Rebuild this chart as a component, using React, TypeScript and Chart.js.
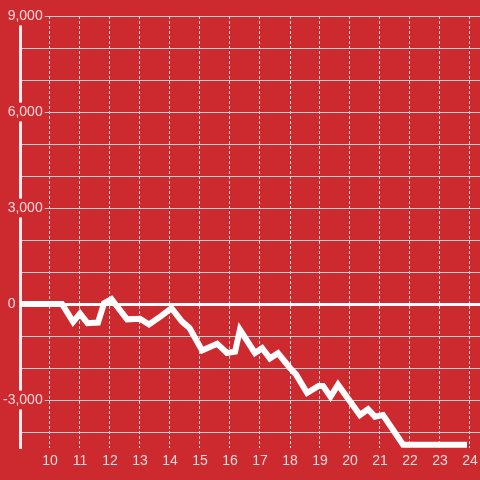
import React, { useEffect, useRef } from 'react';
import { Chart, registerables } from 'chart.js';

Chart.register(...registerables);

const hours = [
  9.0, 10.4, 10.77, 11.0, 11.25, 11.6, 11.8, 12.05, 12.3, 12.57, 13.0, 13.3, 13.7, 14.05,
  14.4, 14.65, 15.07, 15.57, 15.9, 16.17, 16.33, 16.83, 17.07, 17.33, 17.6, 18.0, 18.2,
  18.57, 18.95, 19.1, 19.35, 19.6, 20.33, 20.6, 20.83, 21.1, 21.77, 23.8,
];
const values = [
  0, 0, -560, -300, -600, -580, 20, 150, -150, -480, -460, -640, -380, -130,
  -550, -750, -1450, -1240, -1530, -1490, -800, -1530, -1380, -1700, -1540, -2000, -2200,
  -2780, -2560, -2560, -2900, -2520, -3470, -3290, -3520, -3470, -4400, -4400,
];
const xTickValues = [10, 11, 12, 13, 14, 15, 16, 17, 18, 19, 20, 21, 22, 23, 24];
const yTickValues = [-4000, -3000, -2000, -1000, 0, 1000, 2000, 3000, 4000, 5000, 6000, 7000, 8000, 9000];
const yLabelledValues = [-3000, 0, 3000, 6000, 9000];

const RED = '#CD2A30';
const TEXT = 'rgba(255,255,255,0.82)';
const FONT = '"Liberation Sans", Arial, sans-serif';

export default function App() {
  const ref = useRef<HTMLCanvasElement>(null);

  useEffect(() => {
    if (!ref.current) return;
    const chart = new Chart(ref.current, {
      type: 'line',
      data: {
        datasets: [
          {
            data: hours.map((x, i) => ({ x, y: values[i] })),
            borderColor: '#ffffff',
            borderWidth: 6,
            pointRadius: 0,
            borderCapStyle: 'square',
            borderJoinStyle: 'miter',
            tension: 0,
            fill: false,
          },
        ],
      },
      options: {
        animation: false,
        responsive: false,
        maintainAspectRatio: false,
        layout: { padding: { top: 16, left: 0, right: 0, bottom: 0 } },
        plugins: { legend: { display: false }, tooltip: { enabled: false } },
        scales: {
          x: {
            type: 'linear',
            min: 9,
            max: 9 + 460 / 30,
            afterBuildTicks: (s: any) => {
              s.ticks = xTickValues.map((v) => ({ value: v }));
            },
            afterFit: (s: any) => {
              s.height = 32;
              s.paddingLeft = 0;
              s.paddingRight = 0;
            },
            grid: { color: '#e2dcdc', lineWidth: 1, drawTicks: false },
            border: { display: false, dash: [3, 2] },
            ticks: {
              color: TEXT,
              font: { family: FONT, size: 14 },
              padding: 5,
              maxRotation: 0,
              autoSkip: false,
              callback: (v: any) => String(v),
            },
          },
          y: {
            type: 'linear',
            min: -4500,
            max: 9000,
            afterBuildTicks: (s: any) => {
              s.ticks = yTickValues.map((v) => ({ value: v }));
            },
            afterFit: (s: any) => {
              s.width = 20;
              s.paddingTop = 0;
              s.paddingBottom = 0;
            },
            grid: {
              color: (ctx: any) => (ctx.tick && ctx.tick.value === 0 ? '#ffffff' : '#d2cccc'),
              lineWidth: (ctx: any) => (ctx.tick && ctx.tick.value === 0 ? 3 : 1),
              drawTicks: false,
            },
            border: { display: true, color: '#eeeeee', width: 3 },
            ticks: {
              color: TEXT,
              font: { family: FONT, size: 14 },
              mirror: true,
              crossAlign: 'far',
              padding: -17,
              autoSkip: false,
              showLabelBackdrop: (ctx: any) =>
                !!ctx.tick && ctx.tick.value !== 0 && yLabelledValues.includes(ctx.tick.value),
              backdropColor: RED,
              backdropPadding: { top: 1, bottom: 1, left: 2, right: 2 },
              callback: (v: any) => {
                const n = Number(v);
                if (!yLabelledValues.includes(n)) return '';
                if (n === 0) return '0       ';
                return n.toLocaleString('en-US');
              },
            },
          },
        },
      },
    });
    return () => chart.destroy();
  }, []);

  return (
    <div style={{ position: 'fixed', left: 0, top: 0, width: 480, height: 480, background: RED }}>
      <canvas ref={ref} width={480} height={480} style={{ display: 'block' }} />
    </div>
  );
}
